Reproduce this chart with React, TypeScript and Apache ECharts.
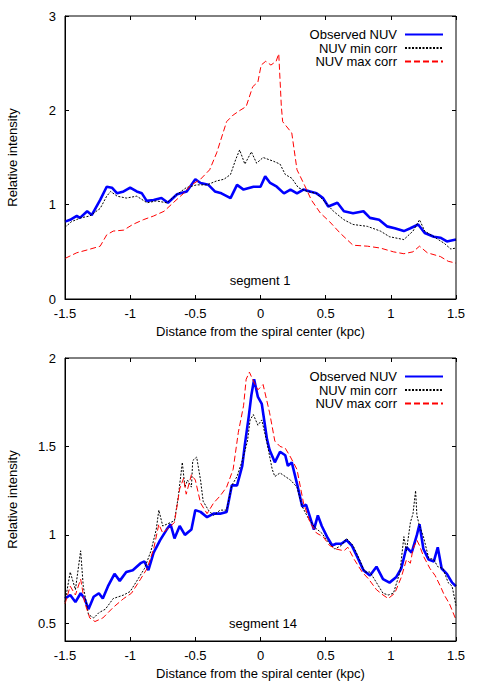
import React, { useEffect, useRef } from "react";
import * as echarts from "echarts";

const xTicks = [-1.5, -1, -0.5, 0, 0.5, 1, 1.5];
const topYTicks = [0, 1, 2, 3];
const bottomYTicks = [0.5, 1, 1.5, 2];
const seriesNames = ["Observed NUV", "NUV min corr", "NUV max corr"];
const xTitle = "Distance from the spiral center (kpc)";
const yTitle = "Relative intensity";
const panelLabels = ["segment 1", "segment 14"];

// Segment 1 (top panel)
const seg1Observed = [
  [-1.5, 0.82], [-1.46, 0.84], [-1.41, 0.88], [-1.385, 0.86], [-1.33, 0.93], [-1.295, 0.89],
  [-1.23, 1.05], [-1.18, 1.19], [-1.14, 1.18], [-1.1, 1.12], [-1.05, 1.14], [-1.0, 1.18],
  [-0.95, 1.14], [-0.91, 1.12], [-0.873, 1.04], [-0.82, 1.05], [-0.76, 1.07], [-0.71, 1.02],
  [-0.64, 1.11], [-0.566, 1.14], [-0.5, 1.27], [-0.46, 1.23], [-0.4, 1.21], [-0.35, 1.14],
  [-0.3, 1.12], [-0.23, 1.07], [-0.18, 1.21], [-0.13, 1.16], [-0.054, 1.19], [0, 1.19],
  [0.036, 1.3], [0.074, 1.23], [0.125, 1.19], [0.18, 1.12], [0.23, 1.16], [0.28, 1.12],
  [0.33, 1.16], [0.38, 1.14], [0.43, 1.12], [0.48, 1.07], [0.52, 0.98], [0.59, 1.02],
  [0.64, 0.93], [0.71, 0.91], [0.79, 0.93], [0.84, 0.86], [0.91, 0.84], [0.97, 0.77],
  [1.03, 0.75], [1.1, 0.72], [1.15, 0.75], [1.21, 0.79], [1.26, 0.7], [1.33, 0.66],
  [1.38, 0.65], [1.43, 0.61], [1.5, 0.63],
];
const seg1MinCorr = [
  [-1.5, 0.76], [-1.45, 0.82], [-1.38, 0.86], [-1.31, 0.88], [-1.23, 0.96], [-1.18, 1.09],
  [-1.15, 1.14], [-1.1, 1.09], [-1.03, 1.07], [-0.95, 1.09], [-0.87, 1.02], [-0.8, 1.04],
  [-0.72, 1.02], [-0.64, 1.11], [-0.57, 1.18], [-0.49, 1.21], [-0.41, 1.21], [-0.34, 1.25],
  [-0.28, 1.27], [-0.23, 1.32], [-0.19, 1.48], [-0.16, 1.58], [-0.12, 1.43], [-0.07, 1.56],
  [-0.03, 1.44], [0.02, 1.5], [0.1, 1.46], [0.15, 1.43], [0.19, 1.32], [0.24, 1.28],
  [0.29, 1.18], [0.36, 1.14], [0.43, 1.12], [0.48, 1.05], [0.56, 0.93], [0.64, 0.84],
  [0.71, 0.79], [0.82, 0.77], [0.92, 0.72], [0.99, 0.66], [1.1, 0.63], [1.17, 0.72],
  [1.22, 0.84], [1.26, 0.72], [1.33, 0.66], [1.41, 0.59], [1.46, 0.53], [1.5, 0.54],
];
const seg1MaxCorr = [
  [-1.5, 0.43], [-1.41, 0.49], [-1.33, 0.52], [-1.23, 0.56], [-1.18, 0.68], [-1.13, 0.72],
  [-1.05, 0.73], [-0.98, 0.79], [-0.9, 0.84], [-0.82, 0.88], [-0.74, 0.93], [-0.67, 1.02],
  [-0.59, 1.12], [-0.54, 1.2], [-0.46, 1.27], [-0.39, 1.37], [-0.336, 1.55], [-0.26, 1.88],
  [-0.21, 1.95], [-0.157, 2.0], [-0.11, 2.04], [-0.06, 2.25], [-0.02, 2.3], [0.005, 2.48],
  [0.04, 2.52], [0.08, 2.48], [0.12, 2.52], [0.14, 2.6], [0.16, 2.04], [0.17, 1.88],
  [0.24, 1.76], [0.28, 1.37], [0.34, 1.2], [0.39, 1.05], [0.46, 0.91], [0.53, 0.82],
  [0.61, 0.7], [0.71, 0.57], [0.82, 0.56], [0.92, 0.54], [1.02, 0.5], [1.1, 0.48],
  [1.17, 0.5], [1.22, 0.56], [1.28, 0.49], [1.38, 0.45], [1.44, 0.4], [1.5, 0.38],
];

// Segment 14 (bottom panel)
const seg14Observed = [
  [-1.5, 0.64], [-1.46, 0.66], [-1.42, 0.62], [-1.38, 0.67], [-1.35, 0.64], [-1.32, 0.58],
  [-1.28, 0.65], [-1.24, 0.67], [-1.21, 0.64], [-1.17, 0.71], [-1.12, 0.78], [-1.08, 0.74],
  [-1.03, 0.79], [-0.98, 0.8], [-0.92, 0.84], [-0.89, 0.85], [-0.86, 0.8], [-0.82, 0.9],
  [-0.77, 0.97], [-0.72, 1.03], [-0.69, 1.06], [-0.66, 0.98], [-0.62, 1.05], [-0.58, 1.0],
  [-0.53, 1.03], [-0.5, 1.14], [-0.46, 1.13], [-0.41, 1.1], [-0.36, 1.12], [-0.31, 1.12],
  [-0.26, 1.13], [-0.22, 1.28], [-0.18, 1.28], [-0.14, 1.39], [-0.12, 1.51], [-0.09, 1.67],
  [-0.07, 1.79], [-0.049, 1.88], [-0.02, 1.78], [0.01, 1.74], [0.05, 1.54], [0.07, 1.48],
  [0.11, 1.41], [0.15, 1.47], [0.19, 1.45], [0.21, 1.39], [0.24, 1.41], [0.28, 1.29],
  [0.32, 1.16], [0.35, 1.17], [0.41, 1.03], [0.44, 1.11], [0.47, 1.05], [0.51, 0.99],
  [0.55, 0.94], [0.58, 0.95], [0.62, 0.95], [0.66, 0.97], [0.7, 0.94], [0.74, 0.88],
  [0.79, 0.8], [0.84, 0.77], [0.89, 0.82], [0.94, 0.75], [0.99, 0.73], [1.04, 0.76],
  [1.08, 0.81], [1.12, 0.93], [1.16, 0.9], [1.2, 1.0], [1.22, 1.06], [1.25, 0.92],
  [1.29, 0.86], [1.33, 0.85], [1.36, 0.93], [1.39, 0.81], [1.43, 0.78], [1.47, 0.73],
  [1.5, 0.71],
];
const seg14MinCorr = [
  [-1.5, 0.62], [-1.46, 0.79], [-1.42, 0.69], [-1.38, 0.91], [-1.36, 0.71], [-1.32, 0.55],
  [-1.28, 0.53], [-1.24, 0.56], [-1.19, 0.58], [-1.13, 0.64], [-1.05, 0.66], [-1.0, 0.68],
  [-0.94, 0.75], [-0.89, 0.81], [-0.84, 0.91], [-0.8, 1.03], [-0.78, 1.14], [-0.75, 1.05],
  [-0.69, 1.07], [-0.66, 1.08], [-0.63, 1.22], [-0.6, 1.41], [-0.58, 1.27], [-0.56, 1.31],
  [-0.53, 1.27], [-0.52, 1.42], [-0.49, 1.44], [-0.46, 1.31], [-0.44, 1.19], [-0.4, 1.14],
  [-0.36, 1.11], [-0.31, 1.14], [-0.26, 1.14], [-0.22, 1.28], [-0.18, 1.33], [-0.14, 1.42],
  [-0.1, 1.53], [-0.08, 1.65], [-0.055, 1.68], [-0.02, 1.62], [0.01, 1.65], [0.05, 1.52],
  [0.09, 1.37], [0.11, 1.33], [0.15, 1.35], [0.19, 1.33], [0.23, 1.31], [0.28, 1.27],
  [0.32, 1.16], [0.37, 1.09], [0.42, 1.04], [0.47, 1.01], [0.52, 0.96], [0.57, 0.92],
  [0.62, 0.94], [0.66, 0.98], [0.71, 0.94], [0.76, 0.86], [0.8, 0.79], [0.84, 0.79],
  [0.89, 0.73], [0.94, 0.67], [0.98, 0.66], [1.02, 0.67], [1.07, 0.79], [1.1, 0.99],
  [1.12, 0.91], [1.15, 1.07], [1.17, 1.12], [1.19, 1.25], [1.2, 1.11], [1.22, 1.05],
  [1.25, 0.99], [1.29, 0.87], [1.33, 0.86], [1.36, 0.82], [1.4, 0.81], [1.44, 0.73],
  [1.47, 0.71], [1.5, 0.6],
];
const seg14MaxCorr = [
  [-1.5, 0.61], [-1.46, 0.71], [-1.42, 0.66], [-1.38, 0.75], [-1.35, 0.62], [-1.31, 0.53],
  [-1.27, 0.51], [-1.21, 0.53], [-1.13, 0.59], [-1.05, 0.64], [-0.99, 0.67], [-0.92, 0.75],
  [-0.87, 0.81], [-0.82, 0.92], [-0.78, 1.06], [-0.75, 1.01], [-0.69, 1.05], [-0.66, 1.07],
  [-0.62, 1.26], [-0.59, 1.32], [-0.57, 1.23], [-0.53, 1.34], [-0.5, 1.31], [-0.46, 1.18],
  [-0.41, 1.12], [-0.36, 1.18], [-0.31, 1.22], [-0.26, 1.27], [-0.21, 1.37], [-0.17, 1.58],
  [-0.13, 1.73], [-0.11, 1.88], [-0.085, 1.92], [-0.055, 1.87], [-0.02, 1.82], [0.02, 1.85],
  [0.07, 1.69], [0.11, 1.53], [0.15, 1.5], [0.19, 1.49], [0.23, 1.44], [0.28, 1.37],
  [0.33, 1.18], [0.38, 1.07], [0.43, 1.01], [0.48, 0.99], [0.53, 0.94], [0.58, 0.92],
  [0.64, 0.91], [0.67, 0.93], [0.72, 0.86], [0.78, 0.79], [0.83, 0.75], [0.89, 0.69],
  [0.94, 0.66], [0.98, 0.64], [1.03, 0.67], [1.08, 0.76], [1.12, 0.86], [1.15, 0.84],
  [1.17, 0.92], [1.2, 0.97], [1.22, 0.94], [1.25, 0.88], [1.3, 0.81], [1.34, 0.77],
  [1.38, 0.71], [1.41, 0.66], [1.45, 0.61], [1.5, 0.52],
];

const FONT = "'Liberation Sans', Arial, Helvetica, sans-serif";
const FS = 13;
const TICK_PX = 4;
const GRID_W = 391;
const GRID_H = 283;

export default function App() {
  const ref = useRef<HTMLDivElement>(null);

  useEffect(() => {
    if (!ref.current) return;
    const chart = echarts.init(ref.current, null, { renderer: "svg" });

    const label = () => ({ color: "#000", fontSize: FS, fontFamily: FONT });

    const makeX = (gridIndex: number) => ({
      type: "value",
      gridIndex,
      min: xTicks[0],
      max: xTicks[xTicks.length - 1],
      interval: 0.5,
      position: "bottom",
      axisLine: { show: true, onZero: false, lineStyle: { color: "#000000", width: 1 } },
      axisTick: { show: true, inside: true, length: TICK_PX, lineStyle: { color: "#000000", width: 1 } },
      splitLine: { show: false },
      axisLabel: { ...label(), margin: 8 },
      name: xTitle,
      nameLocation: "middle",
      nameGap: 26,
      nameTextStyle: { color: "#000", fontSize: FS, fontFamily: FONT },
    });

    const makeY = (gridIndex: number, ticks: number[], min: number) => ({
      type: "value",
      gridIndex,
      min,
      max: ticks[ticks.length - 1],
      position: "left",
      axisLine: { show: true, onZero: false, lineStyle: { color: "#000000", width: 1 } },
      axisTick: { show: true, inside: true, length: TICK_PX, customValues: ticks, lineStyle: { color: "#000000", width: 1 } },
      splitLine: { show: false },
      axisLabel: { ...label(), margin: 9, customValues: ticks },
      name: yTitle,
      nameLocation: "middle",
      nameGap: 46,
      nameTextStyle: { color: "#000", fontSize: FS, fontFamily: FONT },
    });

    const styles = [
      { color: "#0000ff", width: 2.6, type: "solid" as any },
      { color: "#000000", width: 1, type: [2, 1.5] as any },
      { color: "#ff0000", width: 1, type: [6, 3] as any },
    ];
    const makeSeries = (name: string, data: number[][], idx: number, panel: number) => ({
      type: "line",
      name,
      xAxisIndex: panel,
      yAxisIndex: panel,
      data,
      symbol: "none",
      showSymbol: false,
      lineStyle: styles[idx],
      itemStyle: { color: styles[idx].color },
      emphasis: { disabled: true },
      z: 2 + idx,
    });

    // Plot frame with inward ticks on all four sides, drawn in data space of each panel.
    const panelYTicks = [topYTicks, bottomYTicks];
    const panelYMin = [0, 0.4];
    const frameSeries = (p: number) => {
      const x0 = xTicks[0];
      const x1 = xTicks[xTicks.length - 1];
      const yT = panelYTicks[p];
      const y0 = panelYMin[p];
      const y1 = yT[yT.length - 1];
      const dy = ((y1 - y0) / GRID_H) * TICK_PX;
      const dx = ((x1 - x0) / GRID_W) * TICK_PX;
      const segs: any[] = [];
      xTicks.forEach((v) => {
        segs.push([{ coord: [v, y0] }, { coord: [v, y0 + dy] }]);
        segs.push([{ coord: [v, y1] }, { coord: [v, y1 - dy] }]);
      });
      yT.forEach((v) => {
        segs.push([{ coord: [x0, v] }, { coord: [x0 + dx, v] }]);
        segs.push([{ coord: [x1, v] }, { coord: [x1 - dx, v] }]);
      });
      return {
        type: "line",
        name: "frame" + p,
        xAxisIndex: p,
        yAxisIndex: p,
        data: [[x0, y0], [x1, y0], [x1, y1], [x0, y1], [x0, y0]],
        symbol: "none",
        showSymbol: false,
        clip: false,
        silent: true,
        z: 10,
        lineStyle: { color: "#000000", width: 1, type: "solid" },
        itemStyle: { color: "#000000" },
        emphasis: { disabled: true },
        tooltip: { show: false },
        markLine: {
          silent: true,
          symbol: ["none", "none"],
          label: { show: false },
          lineStyle: { color: "#000000", width: 1, type: "solid" },
          emphasis: { disabled: true },
          animation: false,
          data: segs,
        },
      };
    };

    const legendRows = [[28, 41.5, 55], [370, 383.5, 397]];
    const legends: any[] = [];
    legendRows.forEach((rows) => {
      rows.forEach((top, i) => {
        legends.push({
          data: [seriesNames[i]],
          right: 36,
          top,
          align: "right",
          itemWidth: 38,
          itemHeight: 12,
          padding: 0,
          selectedMode: false,
          itemStyle: { opacity: 0 },
          textStyle: { color: "#000", fontSize: FS, fontFamily: FONT, lineHeight: 12, padding: [0, 3, 0, 0] },
        });
      });
    });

    const gridBase = {
      containLabel: false,
      outerBoundsMode: "none",
      left: 65,
      width: GRID_W,
    };

    chart.setOption({
      animation: false,
      backgroundColor: "#fff",
      textStyle: { fontFamily: FONT },
      grid: [
        { ...gridBase, top: 16, height: GRID_H },
        { ...gridBase, top: 358, height: GRID_H },
      ],
      xAxis: [makeX(0), makeX(1)],
      yAxis: [
        { ...makeY(0, topYTicks, 0), interval: 1 },
        makeY(1, bottomYTicks, 0.4),
      ],
      legend: legends,
      series: [
        makeSeries(seriesNames[0], seg1Observed, 0, 0),
        makeSeries(seriesNames[1], seg1MinCorr, 1, 0),
        makeSeries(seriesNames[2], seg1MaxCorr, 2, 0),
        makeSeries(seriesNames[0], seg14Observed, 0, 1),
        makeSeries(seriesNames[1], seg14MinCorr, 1, 1),
        makeSeries(seriesNames[2], seg14MaxCorr, 2, 1),
        frameSeries(0),
        frameSeries(1),
      ],
      graphic: [
        {
          type: "text",
          x: 260,
          y: 280,
          style: { text: panelLabels[0], fill: "#000", fontSize: FS, fontFamily: FONT, align: "center", verticalAlign: "middle" },
        },
        {
          type: "text",
          x: 263,
          y: 623,
          style: { text: panelLabels[1], fill: "#000", fontSize: FS, fontFamily: FONT, align: "center", verticalAlign: "middle" },
        },
      ],
    });

    return () => chart.dispose();
  }, []);

  return (
    <div
      ref={ref}
      style={{ position: "fixed", left: 0, top: 0, width: 480, height: 685, background: "#fff" }}
    />
  );
}
